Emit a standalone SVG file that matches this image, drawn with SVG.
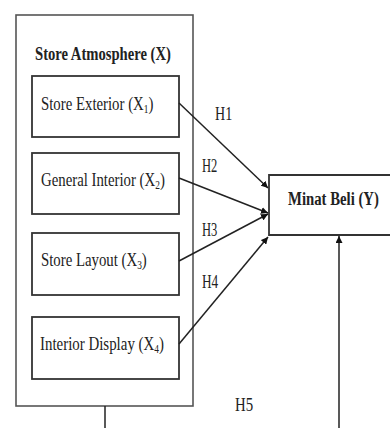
<svg xmlns="http://www.w3.org/2000/svg" width="390" height="428" viewBox="0 0 390 428">
<defs>
<style>
.box{fill:#fff;stroke:#333;stroke-width:1.8}
.outer{fill:#fff;stroke:#555;stroke-width:1.6}
.t{font-family:"Liberation Serif","Times New Roman",serif;font-size:19px;fill:#222}
.b{font-weight:bold}
.sub{font-size:12px}
.ln{stroke:#222;stroke-width:1.5;fill:none}
</style>
<marker id="ah" viewBox="0 0 10 10" refX="10" refY="5" markerWidth="7" markerHeight="7" markerUnits="userSpaceOnUse" orient="auto">
<path d="M0,0 L10,5 L0,10 z" fill="#111"/>
</marker>
</defs>
<rect width="390" height="428" fill="#fff"/>
<g id="store-atmosphere">
<rect class="outer" x="16" y="15" width="177" height="391"/>
<text class="t b" transform="translate(35,60) scale(0.77,1)">Store Atmosphere (X)</text>
</g>
<g id="x1">
<rect class="box" x="32" y="76" width="147" height="61"/>
<text class="t" transform="translate(41,110) scale(0.78,1)">Store Exterior (X<tspan class="sub" dy="3">1</tspan><tspan dy="-3">)</tspan></text>
</g>
<g id="x2">
<rect class="box" x="32" y="153" width="147" height="61"/>
<text class="t" transform="translate(41,186) scale(0.78,1)">General Interior (X<tspan class="sub" dy="3">2</tspan><tspan dy="-3">)</tspan></text>
</g>
<g id="x3">
<rect class="box" x="32" y="233" width="147" height="62"/>
<text class="t" transform="translate(41,266) scale(0.78,1)">Store Layout (X<tspan class="sub" dy="3">3</tspan><tspan dy="-3">)</tspan></text>
</g>
<g id="x4">
<rect class="box" x="32" y="317" width="147" height="62"/>
<text class="t" transform="translate(40,350) scale(0.785,1)">Interior Display (X<tspan class="sub" dy="3">4</tspan><tspan dy="-3">)</tspan></text>
</g>
<g id="minat-beli">
<path class="box" d="M390,175 H269 V235 H390"/>
<text class="t b" transform="translate(288,205) scale(0.776,1)">Minat Beli (Y)</text>
</g>
<g id="connectors">
<line class="ln" x1="179" y1="103" x2="268" y2="188" marker-end="url(#ah)"/>
<line class="ln" x1="179" y1="178" x2="268" y2="213" marker-end="url(#ah)"/>
<line class="ln" x1="179" y1="261" x2="268" y2="214" marker-end="url(#ah)"/>
<line class="ln" x1="179" y1="344" x2="268" y2="237" marker-end="url(#ah)"/>
<line class="ln" x1="339" y1="428" x2="339" y2="236" marker-end="url(#ah)"/>
<line class="ln" x1="105" y1="406" x2="105" y2="428"/>
<text class="t" transform="translate(215,120) scale(0.74,1)">H1</text>
<text class="t" transform="translate(202,172) scale(0.66,1)">H2</text>
<text class="t" transform="translate(202,236) scale(0.66,1)">H3</text>
<text class="t" transform="translate(202,288) scale(0.7,1)">H4</text>
<text class="t" transform="translate(235,411) scale(0.78,1)">H5</text>
</g>
</svg>
